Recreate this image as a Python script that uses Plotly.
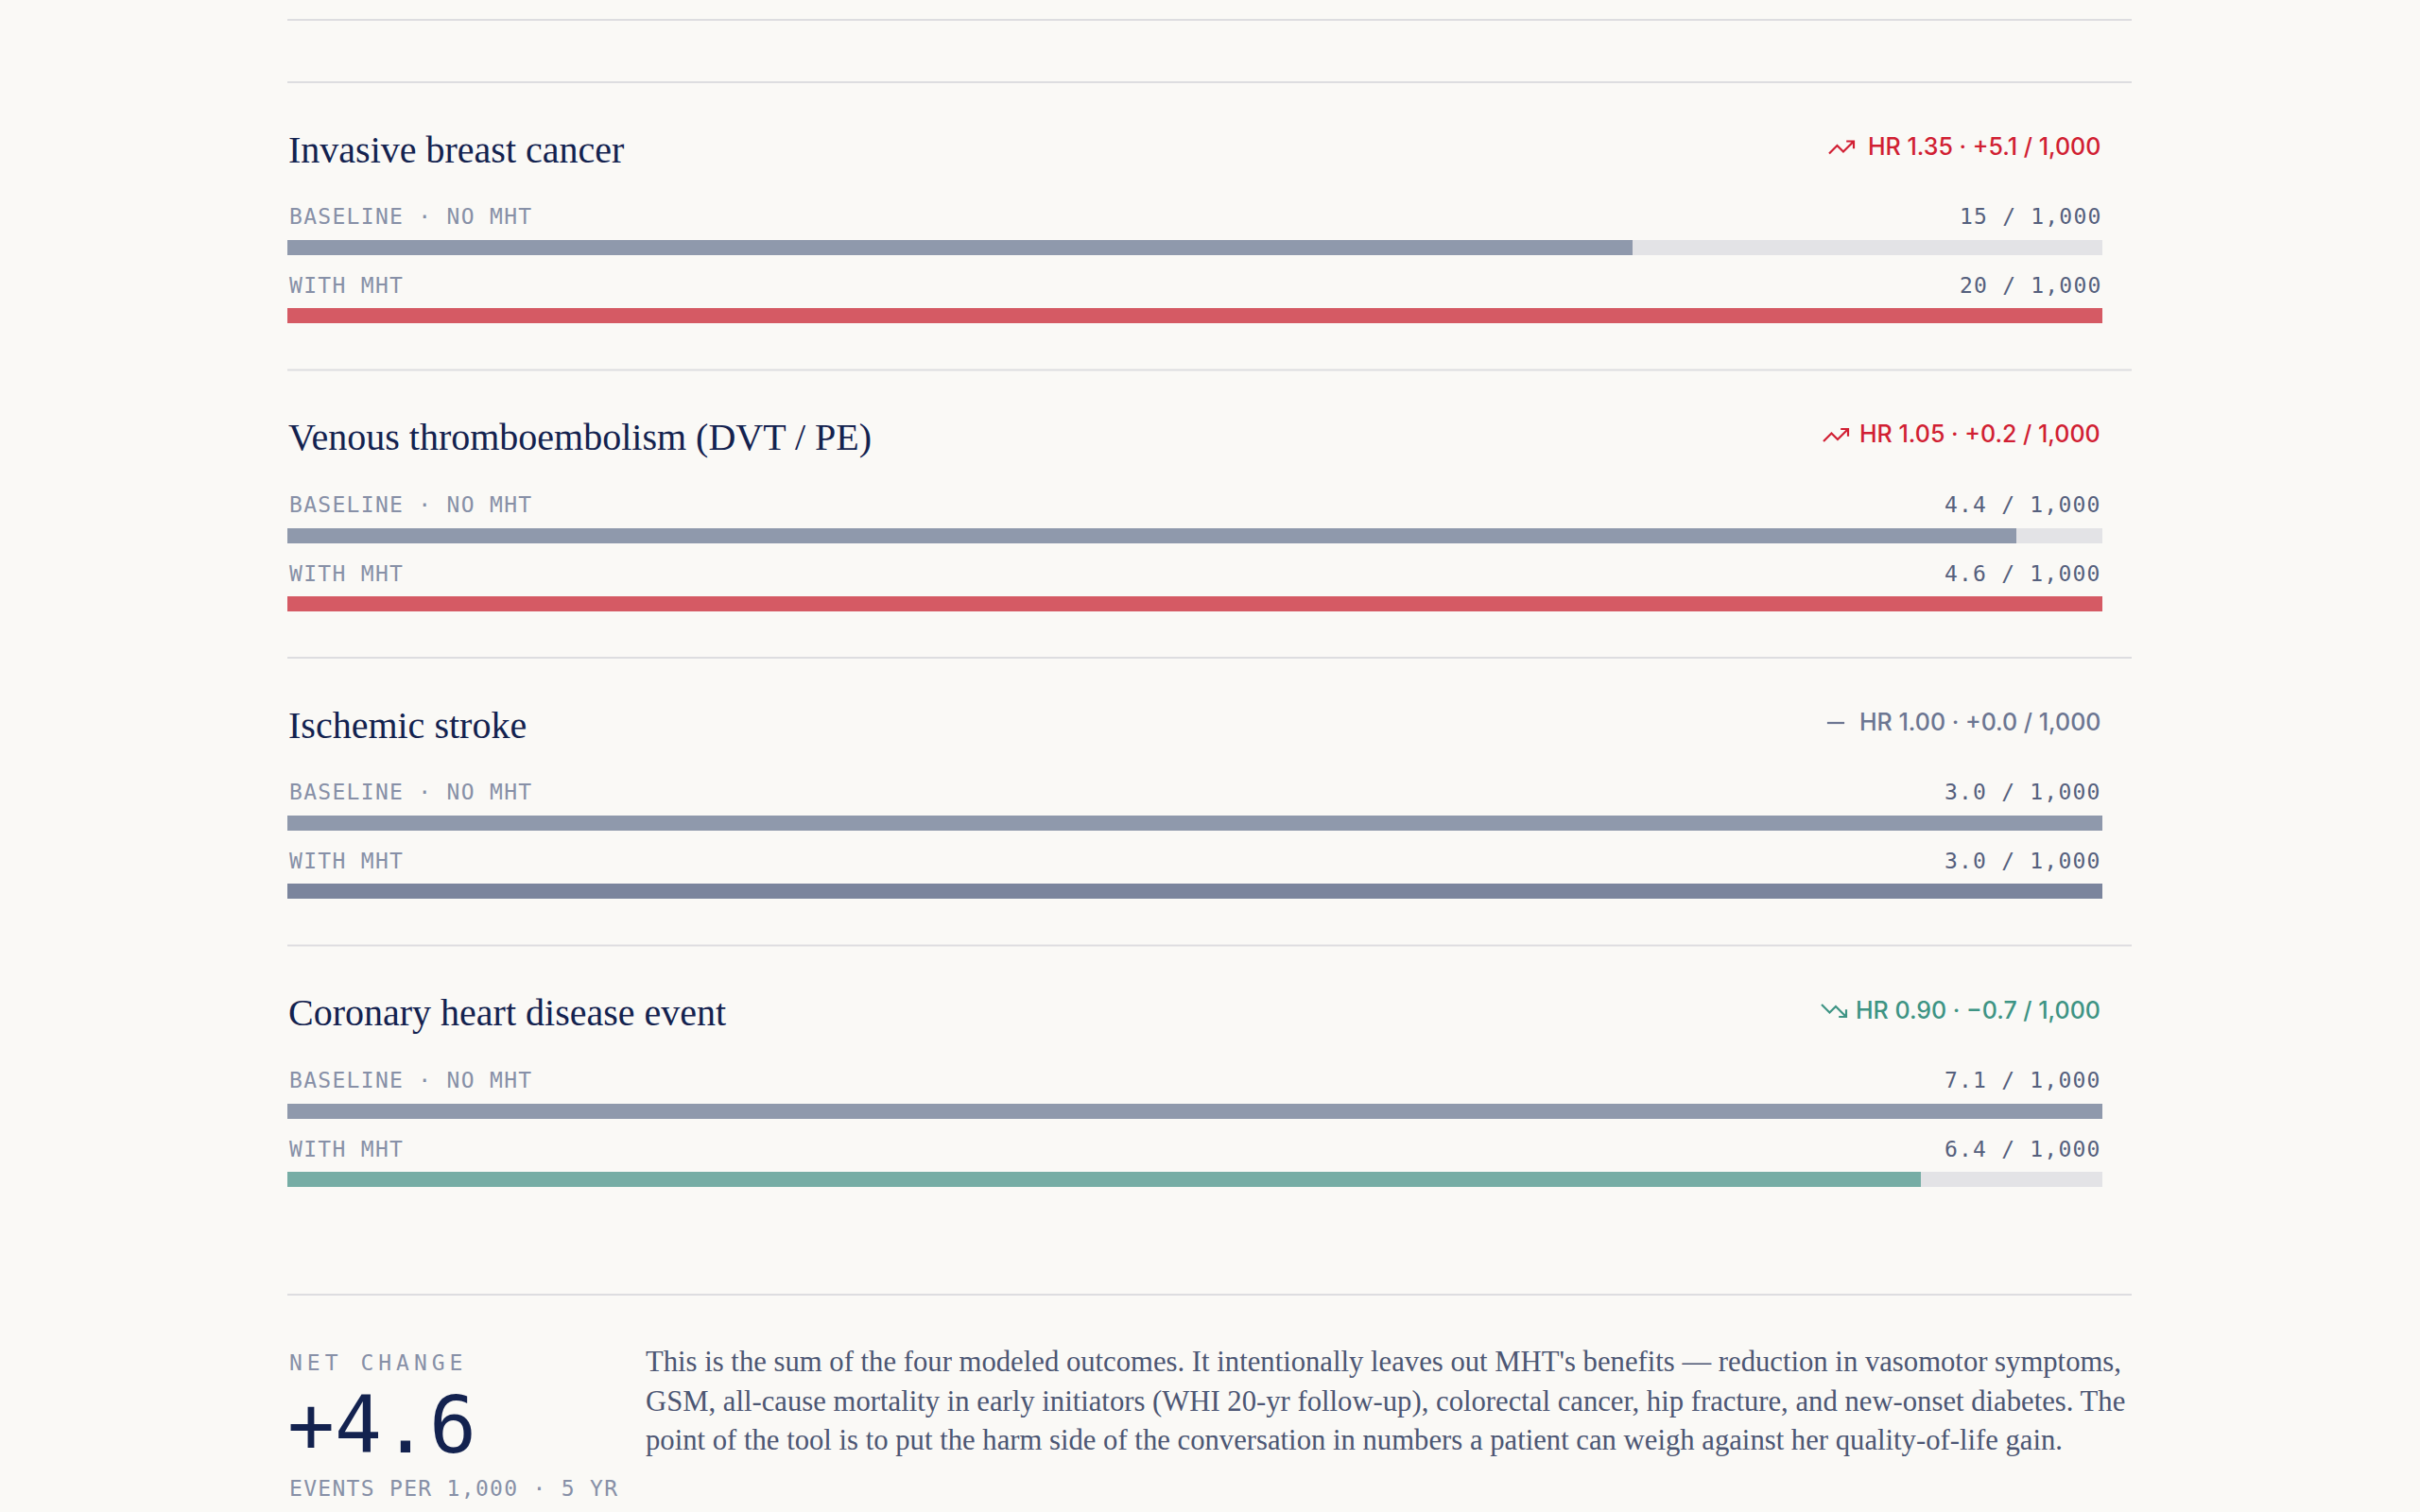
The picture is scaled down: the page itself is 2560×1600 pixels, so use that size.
import plotly.graph_objects as go

# ---------------- data ----------------
outcomes = [
    "Invasive breast cancer",
    "Venous thromboembolism (DVT / PE)",
    "Ischemic stroke",
    "Coronary heart disease event",
]
baseline_rate = [14.6, 4.4, 3.0, 7.1]        # events per 1,000 over 5 yr, no MHT
with_mht_rate = [19.7, 4.62, 3.0, 6.39]      # events per 1,000 over 5 yr, with MHT
baseline_labels = ["15 / 1,000", "4.4 / 1,000", "3.0 / 1,000", "7.1 / 1,000"]
with_mht_labels = ["20 / 1,000", "4.6 / 1,000", "3.0 / 1,000", "6.4 / 1,000"]
hazard_ratio = [1.35, 1.05, 1.00, 0.90]
excess_per_1000 = [5.1, 0.2, 0.0, -0.7]
row_names = ["BASELINE · NO MHT", "WITH MHT"]
net_label = "NET CHANGE"
net_unit = "EVENTS PER 1,000 · 5 YR"
note_lines = [
    "This is the sum of the four modeled outcomes. It intentionally leaves out MHT's benefits — reduction in vasomotor symptoms,",
    "GSM, all-cause mortality in early initiators (WHI 20-yr follow-up), colorectal cancer, hip fracture, and new-onset diabetes. The",
    "point of the tool is to put the harm side of the conversation in numbers a patient can weigh against her quality-of-life gain.",
]

# ---------------- style ----------------
W, H = 2560, 1600
BG = "#faf9f6"
NAVY = "#13224f"
LABEL = "#8790a7"
VALUE = "#55607d"
RULE = "#dddde0"
TRACK = "#e3e3e6"
BASE_BAR = "#8f99ac"
UP = "#d55a64"
DOWN = "#76ada5"
FLAT_BAR = "#7b859d"
UP_TXT = "#d11f33"
DOWN_TXT = "#3e9484"
FLAT_TXT = "#6c7692"
SERIF = "Liberation Serif"
MONO = "DejaVu Sans Mono"
SANS = "Inter"

LEFT, BAR_RIGHT, RULE_RIGHT = 304, 2224, 2255
SEC0, PITCH = 87, 304.5


def fx(p):
    return p / W


def fy(p):
    return 1 - p / H


def spaced(txt, ls):
    return f'<span style="letter-spacing:{ls}px">{txt}</span>'


fig = go.Figure()
annotations = []
shapes = []


def hline(y):
    shapes.append(dict(type="line", xref="paper", yref="paper",
                       x0=fx(LEFT), x1=fx(RULE_RIGHT), y0=fy(y), y1=fy(y),
                       line=dict(color=RULE, width=2), layer="below"))


hline(21)

ICON_UP = "M 22 7 L 13.5 15.5 L 8.5 10.5 L 2 17 M 16 7 L 22 7 L 22 13"
ICON_DOWN = "M 22 17 L 13.5 8.5 L 8.5 13.5 L 2 7 M 16 17 L 22 17 L 22 11"
ICON_FLAT = "M 5 12 L 19 12"
icon_x = [1948, 1942, 1942, 1940]


def icon_path(d, s=1.3):
    toks = d.split()
    out = []
    i = 0
    while i < len(toks):
        t = toks[i]
        if t in ("M", "L"):
            vx = (float(toks[i + 1]) - 12) * s
            vy = -(float(toks[i + 2]) - 12) * s
            out.append(f"{t}{vx:.2f},{vy:.2f}")
            i += 3
        else:
            i += 1
    return " ".join(out)


for i, name in enumerate(outcomes):
    S = SEC0 + PITCH * i
    hline(S)
    b, m = baseline_rate[i], with_mht_rate[i]
    vmax = max(b, m)
    hr = hazard_ratio[i]
    d = excess_per_1000[i]
    if hr > 1:
        bar_c, txt_c, icon = UP, UP_TXT, ICON_UP
    elif hr < 1:
        bar_c, txt_c, icon = DOWN, DOWN_TXT, ICON_DOWN
    else:
        bar_c, txt_c, icon = FLAT_BAR, FLAT_TXT, ICON_FLAT

    xa = "x" if i == 0 else f"x{i + 1}"
    ya = "y" if i == 0 else f"y{i + 1}"
    # track
    fig.add_trace(go.Bar(orientation="h", x=[vmax, vmax], y=[1, 0], width=0.222,
                         marker=dict(color=TRACK, line=dict(width=0)),
                         xaxis=xa, yaxis=ya, hoverinfo="skip", showlegend=False))
    fig.add_trace(go.Bar(orientation="h", x=[b], y=[1], width=0.222,
                         marker=dict(color=BASE_BAR, line=dict(width=0)),
                         xaxis=xa, yaxis=ya, hoverinfo="skip", showlegend=False))
    fig.add_trace(go.Bar(orientation="h", x=[m], y=[0], width=0.222,
                         marker=dict(color=bar_c, line=dict(width=0)),
                         xaxis=xa, yaxis=ya, hoverinfo="skip", showlegend=False))

    ax_key = "xaxis" if i == 0 else f"xaxis{i + 1}"
    ay_key = "yaxis" if i == 0 else f"yaxis{i + 1}"
    fig.layout[ax_key] = dict(domain=[fx(LEFT), fx(BAR_RIGHT)], range=[0, vmax],
                              visible=False, fixedrange=True, anchor=ya)
    fig.layout[ay_key] = dict(domain=[fy(S + 283), fy(S + 139)], range=[-0.5, 1.5],
                              visible=False, fixedrange=True, anchor=xa)

    # title
    annotations.append(dict(text=name, x=fx(LEFT - 1), y=fy(S + 71), xanchor="left", yanchor="middle",
                            font=dict(family=SERIF, size=40, color=NAVY)))
    # HR summary
    sign = "+" if d >= 0 else "−"
    annotations.append(dict(text=f"HR {hr:.2f} · {sign}{abs(d):.1f} / 1,000",
                            x=fx(BAR_RIGHT), y=fy(S + 68), xanchor="right", yanchor="middle",
                            font=dict(family=SANS, size=25, color=txt_c, weight=500)))
    shapes.append(dict(type="path", xref="paper", yref="paper", xsizemode="pixel", ysizemode="pixel",
                       xanchor=fx(icon_x[i]), yanchor=fy(S + 69), path=icon_path(icon),
                       line=dict(color=txt_c, width=2.2)))
    # row labels and values
    for label, val, yy in ((row_names[0], baseline_labels[i], S + 142),
                           (row_names[1], with_mht_labels[i], S + 215)):
        annotations.append(dict(text=spaced(label, 1.3), x=fx(LEFT), y=fy(yy), xanchor="left",
                                yanchor="middle", font=dict(family=MONO, size=23, color=LABEL)))
        annotations.append(dict(text=spaced(val, 1.2), x=fx(BAR_RIGHT + 1), y=fy(yy), xanchor="right",
                                yanchor="middle", font=dict(family=MONO, size=23, color=VALUE)))

# bottom summary
hline(1370)
net = round(sum(excess_per_1000), 1)
net_txt = f"{'+' if net >= 0 else '−'}{abs(net):.1f}"
annotations.append(dict(text=spaced(net_label, 5), x=fx(LEFT), y=fy(1442), xanchor="left",
                        yanchor="middle", font=dict(family=MONO, size=23, color=LABEL)))
annotations.append(dict(text=net_txt, x=fx(LEFT - 2), y=fy(1508), xanchor="left", yanchor="middle",
                        font=dict(family=MONO, size=83, color=NAVY)))
annotations.append(dict(text=spaced(net_unit, 1.3), x=fx(LEFT), y=fy(1575), xanchor="left",
                        yanchor="middle", font=dict(family=MONO, size=23, color=LABEL)))
for k, line in enumerate(note_lines):
    annotations.append(dict(text=line, x=fx(681), y=fy(1441 + 41.5 * k), xanchor="left",
                            yanchor="middle", font=dict(family=SERIF, size=30.7, color="#4c5673")))

for a in annotations:
    a.update(xref="paper", yref="paper", showarrow=False)

fig.update_layout(
    width=W, height=H, margin=dict(l=0, r=0, t=0, b=0),
    paper_bgcolor=BG, plot_bgcolor="rgba(0,0,0,0)",
    barmode="overlay", bargap=0, showlegend=False,
    annotations=annotations, shapes=shapes,
)
fig.write_html(
    "out.html",
    config={"displayModeBar": False},
    post_script="document.body.style.margin='0';document.body.style.background='#faf9f6';",
)
